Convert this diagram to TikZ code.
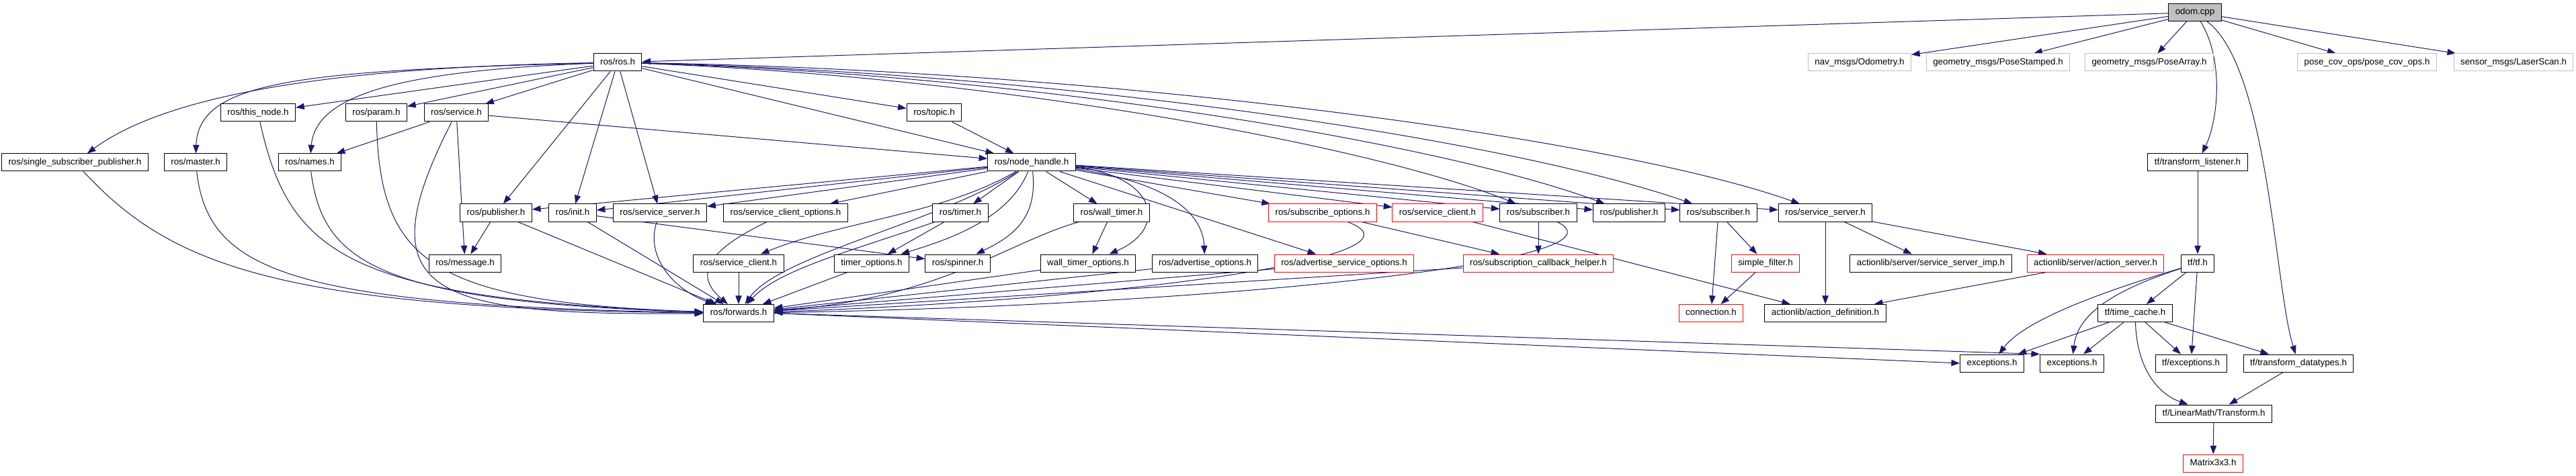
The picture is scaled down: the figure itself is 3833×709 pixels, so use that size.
\documentclass[tikz,border=0pt]{standalone}
\usepackage{fontspec}
\setmainfont{Liberation Sans}
\usepackage{tikz}
\usetikzlibrary{arrows.meta,backgrounds}
\definecolor{edgeblue}{HTML}{191970}
\definecolor{greyline}{HTML}{BFBFBF}

\begin{document}
\begin{tikzpicture}[x=0.75pt,y=-0.75pt,
    file/.style={draw=black,line width=0.75pt,fill=white,inner xsep=7.5pt,inner ysep=0pt,
        minimum height=19.5pt,text height=7.3pt,text depth=2.1pt,
        font=\fontsize{10}{12}\selectfont},
    undoc/.style={file,draw=greyline},
    trunc/.style={file,draw=red},
    mainfile/.style={file,fill=greyline},
    dep/.style={draw=edgeblue,line width=0.75pt,-{Triangle[length=9.5pt,width=7pt]}}]
    \useasboundingbox (0,0) rectangle (3833,709);

    \node[mainfile] (odom) at (3266,18.5) {odom.cpp};

    \node[file] (ros) at (919,93) {ros/ros.h};
    \node[undoc] (odometry) at (2767,93) {nav\_msgs/Odometry.h};
    \node[undoc] (posestamped) at (2973,93) {geometry\_msgs/PoseStamped.h};
    \node[undoc] (posearray) at (3198,93) {geometry\_msgs/PoseArray.h};
    \node[undoc] (posecov) at (3522,93) {pose\_cov\_ops/pose\_cov\_ops.h};
    \node[undoc] (laserscan) at (3740,93) {sensor\_msgs/LaserScan.h};

    \node[file] (thisnode) at (384,168) {ros/this\_node.h};
    \node[file] (param) at (560,168) {ros/param.h};
    \node[file] (service) at (679,168) {ros/service.h};
    \node[file] (topic) at (1390,168) {ros/topic.h};

    \node[file] (ssp) at (111.5,242) {ros/single\_subscriber\_publisher.h};
    \node[file] (master) at (291,242) {ros/master.h};
    \node[file] (names) at (461,242) {ros/names.h};
    \node[file] (nodehandle) at (1535,242) {ros/node\_handle.h};
    \node[file] (tflistener) at (3270,242) {tf/transform\_listener.h};

    \node[file] (publisherA) at (738,317) {ros/publisher.h};
    \node[file] (init) at (852,317) {ros/init.h};
    \node[file] (serverA) at (982,317) {ros/service\_server.h};
    \node[file] (clientopts) at (1169,317) {ros/service\_client\_options.h};
    \node[file] (timer) at (1429,317) {ros/timer.h};
    \node[file] (walltimer) at (1654,317) {ros/wall\_timer.h};
    \node[trunc] (subopts) at (1968,317) {ros/subscribe\_options.h};
    \node[trunc] (clientB) at (2139,317) {ros/service\_client.h};
    \node[file] (subscriberA) at (2289,317) {ros/subscriber.h};
    \node[file] (publisherB) at (2424,317) {ros/publisher.h};
    \node[file] (subscriberB) at (2557,317) {ros/subscriber.h};
    \node[file] (serverB) at (2716,317) {ros/service\_server.h};

    \node[file] (message) at (692,392) {ros/message.h};
    \node[file] (clientA) at (1099,392) {ros/service\_client.h};
    \node[file] (timeropts) at (1297,392) {timer\_options.h};
    \node[file] (spinner) at (1425,392) {ros/spinner.h};
    \node[file] (walltimeropts) at (1619,392) {wall\_timer\_options.h};
    \node[file] (advopts) at (1793,392) {ros/advertise\_options.h};
    \node[trunc] (advsrvopts) at (2000,392) {ros/advertise\_service\_options.h};
    \node[trunc] (subhelper) at (2289,392) {ros/subscription\_callback\_helper.h};
    \node[trunc] (simplefilter) at (2627,392) {simple\_filter.h};
    \node[file] (serverimp) at (2873,392) {actionlib/server/service\_server\_imp.h};
    \node[trunc] (actionserver) at (3118,392) {actionlib/server/action\_server.h};
    \node[file] (tftf) at (3270,392) {tf/tf.h};

    \node[file] (forwards) at (1099,466.5) {ros/forwards.h};
    \node[trunc] (connection) at (2546,466.5) {connection.h};
    \node[file] (actiondef) at (2716,466.5) {actionlib/action\_definition.h};
    \node[file] (timecache) at (3177,466.5) {tf/time\_cache.h};

    \node[file] (exceptionsA) at (2964,541) {exceptions.h};
    \node[file] (exceptionsB) at (3083,541) {exceptions.h};
    \node[file] (tfexceptions) at (3260,541) {tf/exceptions.h};
    \node[file] (datatypes) at (3420,541) {tf/transform\_datatypes.h};

    \node[file] (transform) at (3294,616) {tf/LinearMath/Transform.h};
    \node[trunc] (matrix) at (3293,690) {Matrix3x3.h};

    \begin{pgfonlayer}{background}
    \foreach \a/\b in {odom/ros,odom/odometry,odom/posestamped,odom/posearray,odom/posecov,
        odom/laserscan,ros/thisnode,ros/param,ros/service,ros/publisherA,ros/init,ros/serverA,
        ros/topic,ros/nodehandle,service/names,service/message,service/nodehandle,
        topic/nodehandle,publisherA/message,publisherA/forwards,init/forwards,init/spinner,
        clientA/forwards,timeropts/forwards,nodehandle/publisherA,nodehandle/init,
        nodehandle/serverA,nodehandle/clientopts,nodehandle/timer,nodehandle/walltimer,
        nodehandle/advsrvopts,nodehandle/subopts,nodehandle/clientB,nodehandle/subscriberA,
        nodehandle/publisherB,nodehandle/subscriberB,nodehandle/serverB,timer/timeropts,
        walltimer/walltimeropts,walltimeropts/forwards,advopts/forwards,advsrvopts/forwards,
        subhelper/forwards,subopts/subhelper,subscriberA/subhelper,clientB/actiondef,
        subscriberB/connection,subscriberB/simplefilter,simplefilter/connection,
        serverB/actiondef,serverB/serverimp,serverB/actionserver,actionserver/actiondef,
        tflistener/tftf,tftf/timecache,tftf/tfexceptions,timecache/exceptionsA,
        timecache/exceptionsB,timecache/tfexceptions,timecache/datatypes,datatypes/transform,
        transform/matrix}
        \draw[dep] (\a) -- (\b);

    \draw[dep] (forwards.east) -- (exceptionsA.west);
    \draw[dep] (forwards.east) -- (exceptionsB.north west);
    \draw[dep] (ros) .. controls (1500,115) and (2050,220) .. (subscriberA);
    \draw[dep] (ros) .. controls (1550,112) and (2150,215) .. (publisherB);
    \draw[dep] (ros) .. controls (1600,110) and (2250,210) .. (subscriberB);
    \draw[dep] (ros) .. controls (1650,105) and (2400,205) .. (serverB);
    \draw[dep] (ros) .. controls (500,100) and (250,140) .. (ssp);
    \draw[dep] (ros) .. controls (450,105) and (295,120) .. (master);
    \draw[dep] (ros) .. controls (600,105) and (470,140) .. (names);
    \draw[dep] (service) .. controls (540,440) and (640,470) .. (forwards);
    \draw[dep] (thisnode) .. controls (430,380) and (520,445) .. (forwards);
    \draw[dep] (param) .. controls (565,390) and (640,450) .. (forwards);
    \draw[dep] (ssp) .. controls (250,390) and (400,460) .. (forwards);
    \draw[dep] (master) .. controls (310,400) and (420,455) .. (forwards);
    \draw[dep] (names) .. controls (480,390) and (560,450) .. (forwards);
    \draw[dep] (serverA) .. controls (960,380) and (1000,430) .. (forwards);
    \draw[dep] (clientopts) .. controls (1080,360) and (1020,400) .. (forwards);
    \draw[dep] (nodehandle) .. controls (1400,320) and (1250,330) .. (clientA);
    \draw[dep] (nodehandle) .. controls (1400,330) and (1160,380) .. (forwards);
    \draw[dep] (nodehandle) .. controls (1500,330) and (1400,360) .. (timeropts);
    \draw[dep] (nodehandle) .. controls (1545,330) and (1500,355) .. (spinner);
    \draw[dep] (nodehandle) .. controls (1720,262) and (1740,340) .. (walltimeropts);
    \draw[dep] (nodehandle) .. controls (1760,275) and (1790,330) .. (advopts);
    \draw[dep] (timer) .. controls (1280,370) and (1160,400) .. (forwards);
    \draw[dep] (walltimer) .. controls (1500,360) and (1400,445) .. (forwards);
    \draw[dep] (subopts) .. controls (2140,380) and (1700,445) .. (forwards);
    \draw[dep] (subscriberA) .. controls (2440,390) and (1800,455) .. (forwards);
    \draw[dep] (tftf) .. controls (3110,440) and (3010,480) .. (exceptionsA);
    \draw[dep] (tftf) .. controls (3120,440) and (3090,480) .. (exceptionsB);
    \draw[dep] (timecache) .. controls (3180,560) and (3220,590) .. (transform);
    \draw[dep] (odom) .. controls (3310,90) and (3300,180) .. (tflistener);
    \draw[dep] (odom) .. controls (3375,100) and (3385,430) .. (datatypes);
    \end{pgfonlayer}
\end{tikzpicture}
\end{document}
